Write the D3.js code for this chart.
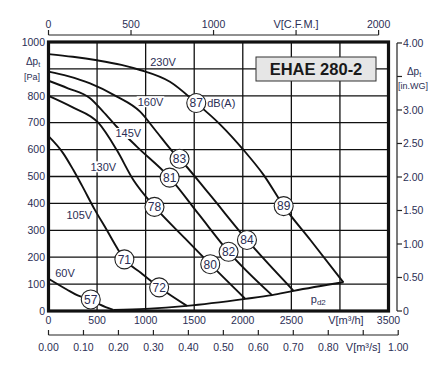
<!DOCTYPE html>
<html><head><meta charset="utf-8">
<script src="https://cdn.jsdelivr.net/npm/d3@7"></script>
<style>
html,body{margin:0;padding:0;background:#fff;}
svg{display:block;font-family:"Liberation Sans",Arial,sans-serif;}
</style></head>
<body><svg id="c" width="448" height="370"></svg>
<script>
// ---- data (flow in m3/h, pressure in Pa) ----
const c230 = [[0,955],[250,945],[500,932],[750,915],[943,896],[1250,852],[1521,773],[1768,693],[2009,598],[2214,506],[2421,390],[2700,262],[3036,106]];
const c160 = [[0,890],[200,873],[428,846],[700,798],[943,741],[1100,672],[1284,590],[1349,566],[1650,437],[2043,264],[2523,75]];
const c145 = [[0,856],[200,828],[428,791],[560,742],[703,685],[909,611],[1247,496],[1550,358],[1854,220],[2301,59]];
const c130 = [[0,800],[250,757],[515,699],[700,600],[874,487],[1096,386],[1400,272],[1665,174],[2026,45]];
const c105 = [[0,650],[150,587],[256,524],[342,468],[479,375],[600,301],[700,238],[782,192],[950,142],[1139,88],[1425,19]];
const c60  = [[0,120],[188,80],[300,58],[435,42],[531,24],[668,4]];
const pd2  = [[668,4],[1000,8],[1425,19],[2026,45],[2301,59],[2523,75],[3036,107]];
const curves = [c230,c160,c145,c130,c105,c60,pd2];

const dbLabels = ["87","89","83","84","81","82","78","80","71","72","57"];
const dbFlow   = [1521,2421,1349,2043,1247,1854,1091,1665,781,1139,435];
const dbPa     = [773,390,566,264,496,220,387,174,192,88,43];

const voltText = ["230V","160V","145V","130V","105V","60V"];
const voltFlow = [1179,1050,821,564,317,170];
const voltPa   = [927,778,660,536,357,140];

const flowTicks = [0,500,1000,1500,2000,2500,3000,3500];
const flowLabels = ["0","500","1000","1500","2000","2500","V[m³/h]","3500"];
const paTicks = [0,100,200,300,400,500,600,700,800,900,1000];
const paLabels = ["0","100","200","300","400","500","600","700","800","","1000"];
const cfmTicks = [0,500,1000,1500,2000];
const cfmLabels = ["0","500","1000","V[C.F.M.]","2000"];
const inwgTicks = [0,0.5,1,1.5,2,2.5,3,3.5,4];
const inwgLabels = ["0","0.50","1.00","1.50","2.00","2.50","3.00","","4.00"];
const m3sTicks = [0,0.1,0.2,0.3,0.4,0.5,0.6,0.7,0.8,0.9,1.0];
const m3sLabels = ["0.00","0.10","0.20","0.30","0.40","0.50","0.60","0.70","0.80","V[m³/s]","1.00"];
const title = "EHAE 280-2";

// ---- scales ----
const x = d3.scaleLinear().domain([0,3500]).range([48.5,388.5]);
const y = d3.scaleLinear().domain([0,1000]).range([311,42]);
const xCfm = d3.scaleLinear().domain([0,2000]).range([x(0), x(2000*1.699)]);
const xS = d3.scaleLinear().domain([0,1]).range([x(0), x(3600)]);
const yIn = d3.scaleLinear().domain([0,4]).range([y(0), y(4*249.09)]);

const svg = d3.select("#c");
const ink = "#111";
const txt = "#2b2e55";

// grid
const g = svg.append("g");
g.selectAll("line.v").data(flowTicks.slice(1,-1)).join("line")
  .attr("x1",d=>x(d)).attr("x2",d=>x(d)).attr("y1",y(1000)).attr("y2",y(0))
  .attr("stroke",ink).attr("stroke-width",1.3);
g.selectAll("line.h").data(paTicks.slice(1,-1)).join("line")
  .attr("y1",d=>y(d)).attr("y2",d=>y(d)).attr("x1",x(0)).attr("x2",x(3500))
  .attr("stroke",ink).attr("stroke-width",1.3);

// title box
const tb = svg.append("g");
tb.append("rect").attr("x",256).attr("y",57).attr("width",120).attr("height",24)
  .attr("fill","#e6e6e6").attr("stroke","#333").attr("stroke-width",1);
tb.append("text").attr("x",316).attr("y",75).attr("text-anchor","middle")
  .attr("font-size",16.5).attr("font-weight","bold").attr("fill","#1a1a1a").text(title);

// curves
const line = d3.line().x(d=>x(d[0])).y(d=>y(d[1])).curve(d3.curveMonotoneX);
svg.append("g").selectAll("path").data(curves).join("path")
  .attr("d",line).attr("fill","none").attr("stroke",ink).attr("stroke-width",1.9)
  .attr("stroke-linejoin","round");

// voltage labels with white knockout
const vl = svg.append("g").selectAll("g").data(voltText).join("g")
  .attr("transform",(d,i)=>`translate(${x(voltFlow[i])},${y(voltPa[i])})`);
vl.append("rect").attr("x",d=>-d.length*3.2-1).attr("y",-5.5).attr("width",d=>d.length*6.4+2).attr("height",11).attr("fill","#fff");
vl.append("text").attr("text-anchor","middle").attr("dy","0.36em").attr("font-size",11)
  .attr("fill",txt).text(d=>d);

// dB circles
const dc = svg.append("g").selectAll("g").data(dbLabels).join("g")
  .attr("transform",(d,i)=>`translate(${x(dbFlow[i])},${y(dbPa[i])})`);
dc.append("circle").attr("r",9.5).attr("fill","#fff").attr("stroke","#222").attr("stroke-width",1.1);
dc.append("text").attr("text-anchor","middle").attr("dy","0.36em").attr("font-size",12)
  .attr("fill",txt).text(d=>d);
svg.append("text").attr("x",x(dbFlow[0])+11).attr("y",y(dbPa[0])).attr("dy","0.36em")
  .attr("font-size",11).attr("fill",txt).text("dB(A)");

// pd2 label
const pl = svg.append("text").attr("x",x(2777)).attr("y",y(30)).attr("text-anchor","middle")
  .attr("font-size",11).attr("fill",txt);
pl.append("tspan").text("p");
pl.append("tspan").attr("font-size",8).attr("dy",2).text("d2");

// frame
svg.append("rect").attr("x",x(0)).attr("y",y(1000)).attr("width",x(3500)-x(0)).attr("height",y(0)-y(1000))
  .attr("fill","none").attr("stroke",ink).attr("stroke-width",3.2);

// left labels
const ax = svg.append("g").attr("font-size",10.5).attr("fill",txt);
ax.selectAll("text.l").data(paTicks).join("text").attr("x",45).attr("y",d=>y(d)).attr("dy","0.36em")
  .attr("text-anchor","end").text((d,i)=>paLabels[i]);
const lp = svg.append("text").attr("x",33).attr("y",65).attr("text-anchor","middle").attr("font-size",10).attr("fill",txt);
lp.append("tspan").text("Δp");
lp.append("tspan").attr("font-size",7).attr("dy",2).text("t");
svg.append("text").attr("x",32).attr("y",80).attr("text-anchor","middle").attr("font-size",9).attr("fill",txt).text("[Pa]");

// bottom m3/h labels
const bx = svg.append("g").attr("fill",txt);
bx.selectAll("text").data(flowTicks).join("text").attr("x",(d,i)=>x(d)+(i===6?6:0)).attr("y",324)
  .attr("text-anchor","middle").attr("font-size",(d,i)=>i===6?11:10.5).text((d,i)=>flowLabels[i]);

// top CFM axis
const topAx = svg.append("g").attr("transform","translate(0,35)");
topAx.append("line").attr("x1",xCfm(0)).attr("x2",xCfm(2000)).attr("stroke","#222").attr("stroke-width",1.2);
topAx.selectAll("line.t").data(cfmTicks).join("line").attr("x1",d=>xCfm(d)).attr("x2",d=>xCfm(d)).attr("y1",0).attr("y2",-5)
  .attr("stroke","#222").attr("stroke-width",1.2);
topAx.selectAll("text").data(cfmTicks).join("text").attr("x",d=>xCfm(d)).attr("y",-7)
  .attr("text-anchor","middle").attr("font-size",(d,i)=>i===3?11:10.5).attr("fill",txt).text((d,i)=>cfmLabels[i]);

// right in.WG axis
const rt = svg.append("g").attr("transform","translate(397,0)");
rt.append("line").attr("x1",0).attr("x2",0).attr("y1",yIn(4)).attr("y2",yIn(0)).attr("stroke","#222").attr("stroke-width",1.2);
rt.selectAll("line.t").data(inwgTicks).join("line").attr("x1",0).attr("x2",5).attr("y1",d=>yIn(d)).attr("y2",d=>yIn(d))
  .attr("stroke","#222").attr("stroke-width",1.2);
rt.selectAll("text").data(inwgTicks).join("text").attr("x",6).attr("y",d=>yIn(d)).attr("dy","0.36em")
  .attr("font-size",10.5).attr("fill",txt).text((d,i)=>inwgLabels[i]);
const rp = svg.append("text").attr("x",414).attr("y",75).attr("text-anchor","middle").attr("font-size",10).attr("fill",txt);
rp.append("tspan").text("Δp");
rp.append("tspan").attr("font-size",7).attr("dy",2).text("t");
svg.append("text").attr("x",413).attr("y",89).attr("text-anchor","middle").attr("font-size",9).attr("fill",txt).text("[in.WG]");

// bottom m3/s axis
const btAx = svg.append("g").attr("transform","translate(0,335)");
btAx.append("line").attr("x1",xS(0)).attr("x2",xS(1)).attr("stroke","#222").attr("stroke-width",1.2);
btAx.selectAll("line.t").data(m3sTicks).join("line").attr("x1",d=>xS(d)).attr("x2",d=>xS(d)).attr("y1",0).attr("y2",-5)
  .attr("stroke","#222").attr("stroke-width",1.2);
btAx.selectAll("text").data(m3sTicks).join("text").attr("x",d=>xS(d)).attr("y",16)
  .attr("text-anchor","middle").attr("font-size",(d,i)=>i===9?11:10.5).attr("fill",txt).text((d,i)=>m3sLabels[i]);
</script></body></html>
